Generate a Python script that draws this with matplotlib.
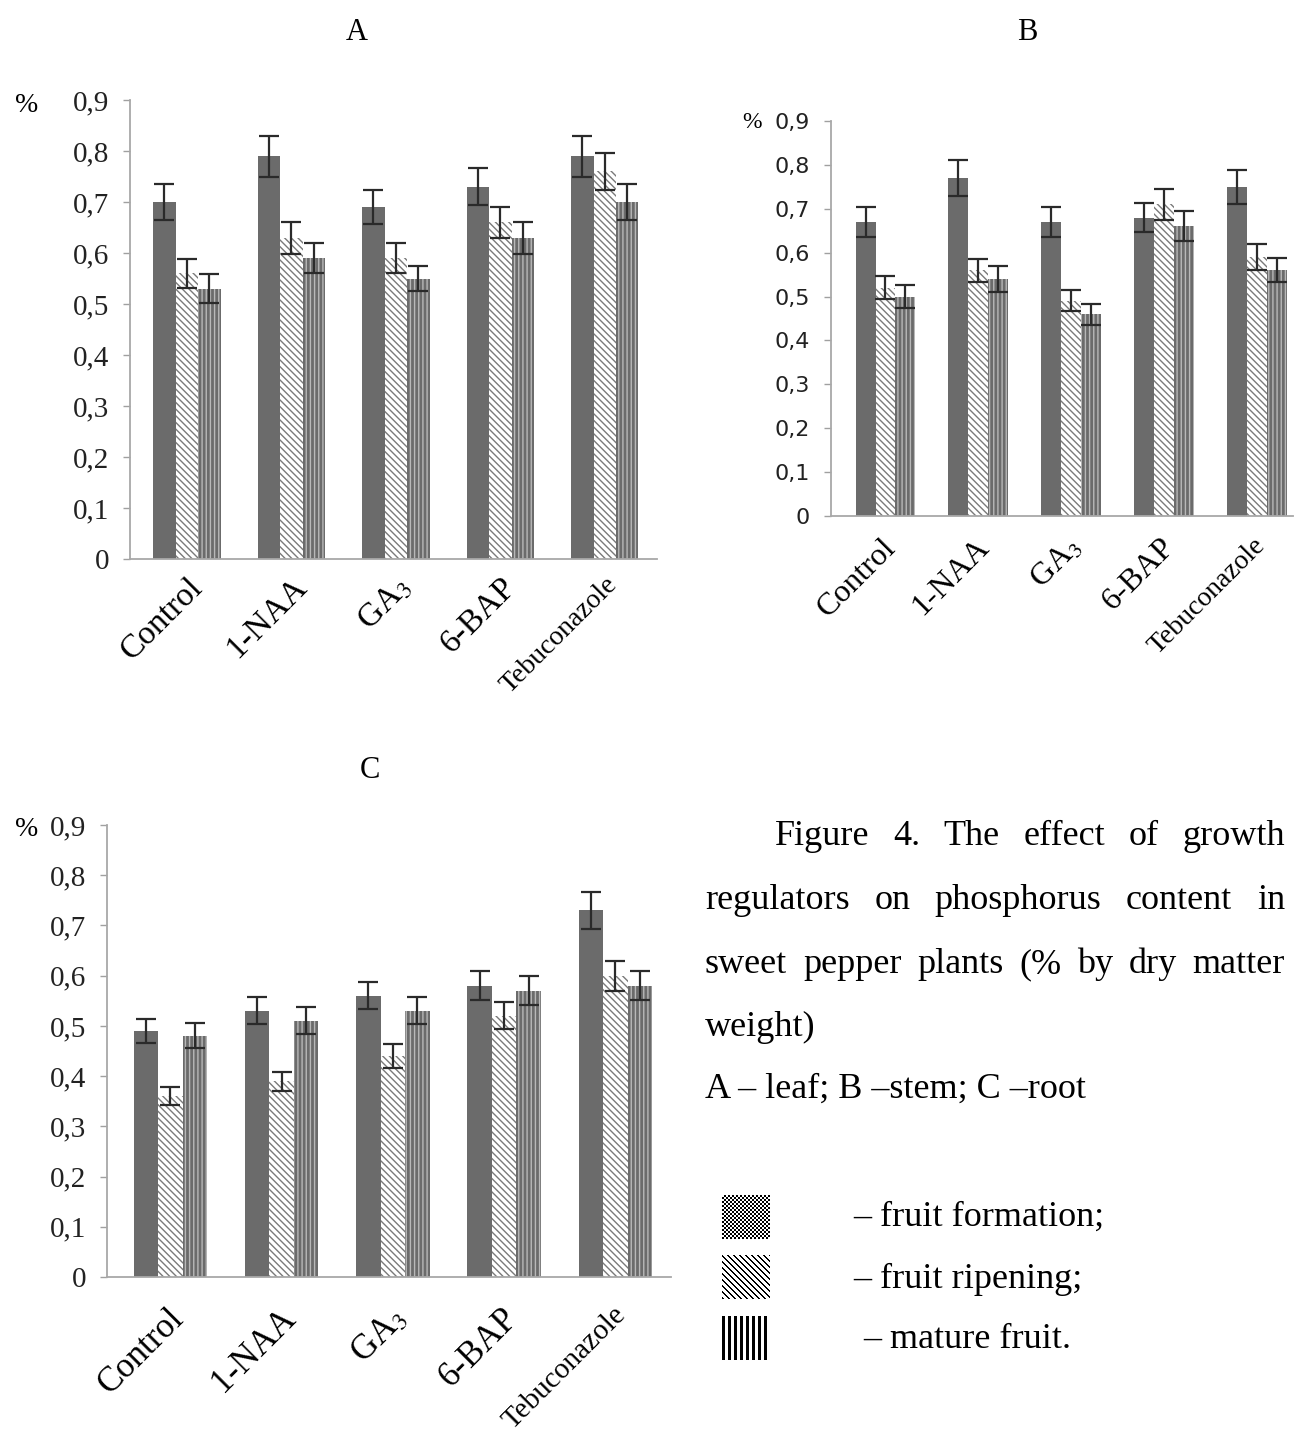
import numpy as np
import matplotlib
matplotlib.use("Agg")
import matplotlib.pyplot as plt
import matplotlib.transforms as mtransforms

plt.rcParams['mathtext.fontset'] = 'stix'
plt.rcParams['hatch.linewidth'] = 1.0

W, H = 1295, 1434

###     DATA     ###
categories = ['Control', '1-NAA', 'GA$_3$', '6-BAP', 'Tebuconazole']
stages = ['fruit formation', 'fruit ripening', 'mature fruit']

# A - leaf
leaf_formation = [0.70, 0.79, 0.69, 0.73, 0.79]
leaf_ripening = [0.56, 0.63, 0.59, 0.66, 0.76]
leaf_mature = [0.53, 0.59, 0.55, 0.63, 0.70]
leaf_err_formation = [0.035, 0.040, 0.033, 0.036, 0.040]
leaf_err_ripening = [0.029, 0.031, 0.030, 0.030, 0.037]
leaf_err_mature = [0.028, 0.030, 0.025, 0.031, 0.035]

# B - stem
stem_formation = [0.67, 0.77, 0.67, 0.68, 0.75]
stem_ripening = [0.52, 0.56, 0.49, 0.71, 0.59]
stem_mature = [0.50, 0.54, 0.46, 0.66, 0.56]
stem_err_formation = [0.034, 0.040, 0.034, 0.034, 0.039]
stem_err_ripening = [0.026, 0.026, 0.024, 0.035, 0.030]
stem_err_mature = [0.026, 0.029, 0.024, 0.034, 0.027]

# C - root
root_formation = [0.49, 0.53, 0.56, 0.58, 0.73]
root_ripening = [0.36, 0.39, 0.44, 0.52, 0.60]
root_mature = [0.48, 0.51, 0.53, 0.57, 0.58]
root_err_formation = [0.024, 0.027, 0.027, 0.029, 0.037]
root_err_ripening = [0.018, 0.019, 0.023, 0.027, 0.030]
root_err_mature = [0.025, 0.027, 0.027, 0.029, 0.029]

yticks = [0, 0.1, 0.2, 0.3, 0.4, 0.5, 0.6, 0.7, 0.8, 0.9]


def fx(x):
    return x / W


def fy(y):
    return 1 - y / H


SERIF = 'Liberation Serif'
GRAY = '#6b6b6b'

fig = plt.figure(figsize=(W / 100, H / 100), dpi=100)


def panel(rect_px, vals, errs, xlim, bw, tick_font, tick_size, lab_sizes, lab_off):
    l, r, t, b = rect_px
    ax = fig.add_axes([fx(l), fy(b), fx(r - l), (b - t) / H])
    x = np.arange(len(categories))
    styles = [dict(color=GRAY, edgecolor=GRAY, linewidth=0),
              dict(color='white', edgecolor='#7a7a7a', hatch='\\\\\\\\\\', linewidth=0),
              dict(color=GRAY, edgecolor='#b8b8b8', hatch='||||', linewidth=0)]
    for k in range(3):
        ax.bar(x + (k - 1) * bw, vals[k], bw, yerr=errs[k],
               error_kw=dict(ecolor='#2a2a2a', elinewidth=1.6, capsize=7, capthick=1.6),
               **styles[k])
    ax.set_xlim(*xlim)
    ax.set_ylim(0, 0.9)
    ax.set_yticks(yticks)
    ax.set_yticklabels([('%g' % v).replace('.', ',') for v in yticks],
                       fontfamily=tick_font, fontsize=tick_size, color='#222222')
    ax.tick_params(axis='y', length=5, width=1, color='#a0a0a0', pad=10)
    ax.tick_params(axis='x', length=0)
    for s in ['top', 'right']:
        ax.spines[s].set_visible(False)
    for s in ['left', 'bottom']:
        ax.spines[s].set_color('#a8a8a8')
        ax.spines[s].set_linewidth(1.3)
    ax.set_xticks(x)
    ax.set_xticklabels(categories, rotation=45, ha='right', va='top',
                       rotation_mode='anchor', fontfamily=SERIF)
    off = mtransforms.ScaledTranslation(lab_off[0] / 100, lab_off[1] / 100, fig.dpi_scale_trans)
    for lab, sz in zip(ax.get_xticklabels(), lab_sizes):
        lab.set_fontsize(sz)
        lab.set_transform(lab.get_transform() + off)
    return ax


panel((130, 657, 100, 559),
      [leaf_formation, leaf_ripening, leaf_mature],
      [leaf_err_formation, leaf_err_ripening, leaf_err_mature],
      (-0.545, 4.5), 0.215, SERIF, 21, [24, 24, 24, 24, 20], (0, -8))

panel((831, 1293, 121, 516),
      [stem_formation, stem_ripening, stem_mature],
      [stem_err_formation, stem_err_ripening, stem_err_mature],
      (-0.587, 4.39), 0.215, 'DejaVu Sans', 16, [23, 23, 23, 23, 20], (-4, -12))

panel((107, 671, 825, 1277),
      [root_formation, root_ripening, root_mature],
      [root_err_formation, root_err_ripening, root_err_mature],
      (-0.57, 4.5), 0.22, SERIF, 21, [25, 25, 25, 25, 21], (-3, -20))

# panel titles and % signs
for txt, x, y in [('A', 357, 32), ('B', 1027, 32), ('C', 370, 770)]:
    fig.text(fx(x), fy(y), txt, ha='center', va='center', fontfamily=SERIF, fontsize=22)
for x, y, sz in [(27, 105, 20), (752, 123, 17), (27, 830, 20)]:
    fig.text(fx(x), fy(y), '%', ha='center', va='center', fontfamily=SERIF, fontsize=sz)

# caption, justified lines
CAP = 26
lines = [("Figure 4. The effect of growth", 775, 1285, 845, True),
         ("regulators on phosphorus content in", 705, 1285, 909, True),
         ("sweet pepper plants (% by dry matter", 705, 1285, 973, True),
         ("weight)", 705, None, 1036, False),
         ("A \u2013 leaf; B \u2013stem; C \u2013root", 705, None, 1098, False)]
renderer = fig.canvas.get_renderer()
for s, x0, x1, yb, just in lines:
    if not just:
        fig.text(fx(x0), fy(yb), s, fontfamily=SERIF, fontsize=CAP, va='baseline')
        continue
    words = s.split(' ')
    ts = [fig.text(0, fy(yb), w, fontfamily=SERIF, fontsize=CAP, va='baseline') for w in words]
    widths = [t.get_window_extent(renderer).width for t in ts]
    gap = (x1 - x0 - sum(widths)) / (len(words) - 1)
    xp = x0
    for t, w in zip(ts, widths):
        t.set_x(fx(xp))
        xp += w + gap

# legend swatches
ii, jj = np.indices((44, 48))
checker = ((ii // 2 + jj // 2) % 2).astype(float)
diag = (((ii - jj) // 2) % 3 == 0).astype(float)
vert = ((jj // 3) % 2 == 0).astype(float)
swatches = [(checker, 1195, 1239), (diag, 1255, 1299), (vert, 1316, 1360)]
for img, y0, y1 in swatches:
    sax = fig.add_axes([fx(722), fy(y1), fx(48), (y1 - y0) / H])
    sax.imshow(1 - img, cmap='gray', vmin=0, vmax=1, interpolation='nearest', aspect='auto')
    sax.axis('off')

for txt, x, y in [("\u2013 fruit formation;", 853, 1226),
                  ("\u2013 fruit ripening;", 853, 1288),
                  ("\u2013 mature fruit.", 863, 1348)]:
    fig.text(fx(x), fy(y), txt, fontfamily=SERIF, fontsize=CAP, va='baseline')

fig.savefig('out.png', dpi=100)
